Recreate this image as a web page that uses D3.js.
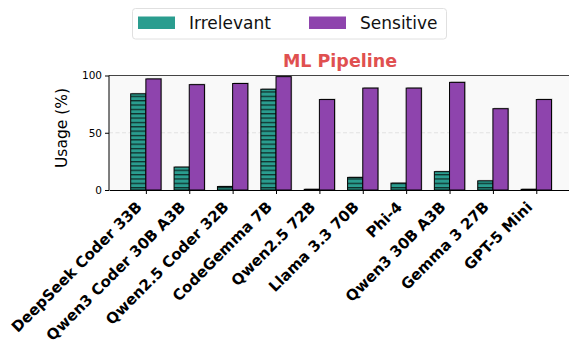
<!DOCTYPE html>
<html><head><meta charset="utf-8">
<script src="https://cdn.jsdelivr.net/npm/d3@7"></script>
<style>body{margin:0;background:#fff;} svg{display:block;} svg text{font-family:"DejaVu Sans",sans-serif;}</style>
</head><body>
<script>
const categories = ["DeepSeek Coder 33B","Qwen3 Coder 30B A3B","Qwen2.5 Coder 32B","CodeGemma 7B","Qwen2.5 72B","Llama 3.3 70B","Phi-4","Qwen3 30B A3B","Gemma 3 27B","GPT-5 Mini"];
const irrelevant = [84, 20, 3, 88, 0.6, 11, 6, 16, 8, 0.6];
const sensitive = [97, 92, 93, 99, 79, 89, 89, 94, 71, 79];
const seriesNames = ["Irrelevant","Sensitive"];
const yTicks = [0, 50, 100];
const title = "ML Pipeline";

(function(){
const W = 569, H = 340;
const FF = "DejaVu Sans";
const svg = d3.select("body").append("svg").attr("width", W).attr("height", H);
const pL = 109, pR = 571, pT = 75.5, pB = 190;
const x = d3.scaleLinear().domain([-0.85, 9.8]).range([pL, pR]);
const y = d3.scaleLinear().domain([0, 100]).range([pB, pT]);
const unit = x(1) - x(0);
const bw = 0.35 * unit;
const colors = ["#2a9d8f", "#8e44ad"];

const defs = svg.append("defs");
const pat = defs.append("pattern").attr("id","hatch").attr("patternUnits","userSpaceOnUse")
  .attr("width", 8).attr("height", 4.35);
pat.append("rect").attr("width",8).attr("height",4.35).attr("fill",colors[0]);
pat.append("rect").attr("y",0).attr("width",8).attr("height",1.3).attr("fill","#10302c");
const clip = defs.append("clipPath").attr("id","clip");
clip.append("rect").attr("x",pL).attr("y",pT).attr("width",pR-pL).attr("height",pB-pT);

svg.append("rect").attr("x",pL).attr("y",pT).attr("width",pR-pL).attr("height",pB-pT).attr("fill","#f9f9f9");
svg.append("g").selectAll("line").data([50]).join("line")
  .attr("x1",pL).attr("x2",pR).attr("y1",d=>y(d)).attr("y2",d=>y(d))
  .attr("stroke","#dcdcdc").attr("stroke-width",0.8).attr("stroke-dasharray","4,2.5");

const g = svg.append("g").attr("clip-path","url(#clip)");
const data = categories.map((c,i)=>({i, v:[irrelevant[i], sensitive[i]]}));
[0,1].forEach(s=>{
  const off = s===0 ? -bw : 0;
  g.selectAll(null).data(data).join("rect")
    .attr("x", d=>x(d.i)+off+1).attr("y", d=>y(d.v[s])-1)
    .attr("width", bw).attr("height", d=>pB-y(d.v[s])+1)
    .attr("fill","#000").attr("opacity",0.25);
  g.selectAll(null).data(data).join("rect")
    .attr("x", d=>x(d.i)+off).attr("y", d=>y(d.v[s]))
    .attr("width", bw).attr("height", d=>pB-y(d.v[s]))
    .attr("fill", s===0 ? "url(#hatch)" : colors[1])
    .attr("stroke","#000").attr("stroke-width",1);
});

svg.append("line").attr("x1",pL).attr("x2",pR).attr("y1",pT).attr("y2",pT).attr("stroke","#444").attr("stroke-width",1);
svg.append("line").attr("x1",pL).attr("x2",pL).attr("y1",pT).attr("y2",pB).attr("stroke","#000").attr("stroke-width",1);

const xAxis = svg.append("g").attr("transform",`translate(0,${pB})`)
  .call(d3.axisBottom(x).tickValues(d3.range(categories.length)).tickFormat(i=>categories[i]).tickSize(4).tickSizeOuter(0));
xAxis.attr("font-family",FF);
xAxis.select(".domain").attr("stroke","#000");
xAxis.selectAll("text").attr("font-size",15).attr("font-weight","bold").attr("fill","#000")
  .attr("text-anchor","end").attr("dy",0).attr("dx",0).attr("y",0)
  .attr("transform","translate(-3.5,18) rotate(-45)");
const yAxis = svg.append("g").attr("transform",`translate(${pL},0)`)
  .call(d3.axisLeft(y).tickValues(yTicks).tickSize(4).tickSizeOuter(0));
yAxis.attr("font-family",FF);
yAxis.select(".domain").remove();
yAxis.selectAll("text").attr("font-size",10.5).attr("fill","#000");

svg.append("text").attr("transform",`translate(67,128) rotate(-90)`)
  .attr("text-anchor","middle").attr("font-size",15.5).attr("fill","#000").text("Usage (%)");

svg.append("text").attr("x",(pL+pR)/2).attr("y",67).attr("text-anchor","middle")
  .attr("font-size",17.5).attr("font-weight","bold").attr("fill","#e05050").text(title);

const lg = svg.append("g");
lg.append("rect").attr("x",132.5).attr("y",8.5).attr("width",314).attr("height",30.5).attr("rx",3)
  .attr("fill","#fff").attr("stroke","#e0e0e0");
const lx = [138, 309];
seriesNames.forEach((n,i)=>{
  lg.append("rect").attr("x",lx[i]).attr("y",16.5).attr("width",37).attr("height",12.5).attr("fill",colors[i]);
  lg.append("text").attr("x",lx[i]+51).attr("y",29).attr("font-size",17).attr("fill","#111").text(n);
});
})();
</script>
</body></html>
